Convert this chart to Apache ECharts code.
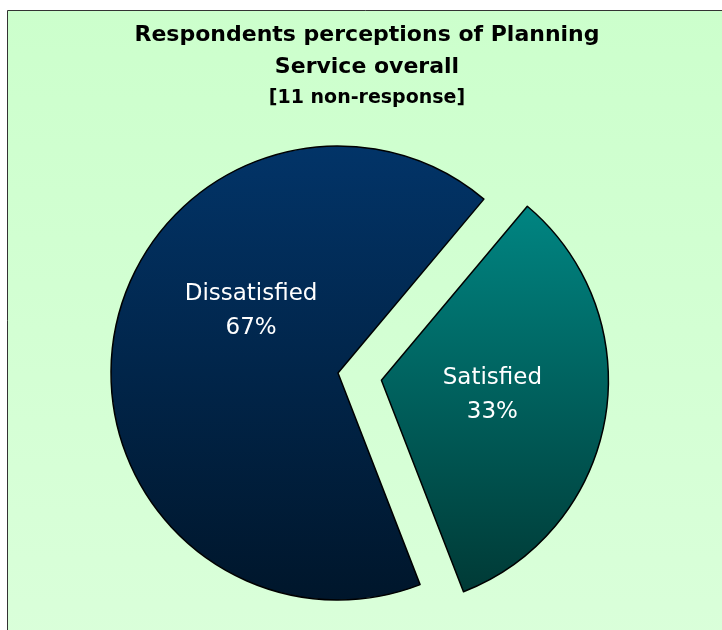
<!DOCTYPE html>
<html>
<head>
<meta charset="utf-8">
<script src="https://cdn.jsdelivr.net/npm/echarts@6/dist/echarts.min.js"></script>
<style>
  html, body { margin: 0; padding: 0; background: #fff; }
  #chart { width: 722px; height: 630px; }
</style>
</head>
<body>
<div id="chart"></div>
<script>
// pie data, Satisfied first so it starts at the upper right
var categories = ['Satisfied', 'Dissatisfied'];
var values = [33, 67];
var titleLines = ['Respondents perceptions of Planning', 'Service overall'];
var subTitle = '[11 non-response]';

var sliceColors = [
  ['#008582', '#003a36'],
  ['#023468', '#00162b']
];

var chart = echarts.init(document.getElementById('chart'));

var pieData = categories.map(function (name, i) {
  return {
    name: name,
    value: values[i],
    selected: i === 0,
    itemStyle: {
      color: new echarts.graphic.LinearGradient(0, 0, 0, 1, [
        { offset: 0, color: sliceColors[i][0] },
        { offset: 1, color: sliceColors[i][1] }
      ])
    }
  };
});

// nudge the labels to where the original has them
var labelShift = [[-4, -4], [28, -43]];

chart.setOption({
  animation: false,
  backgroundColor: '#ffffff',
  graphic: [{
    type: 'rect',
    z: -10,
    shape: { x: 7.5, y: 10.5, width: 730, height: 640 },
    style: {
      fill: new echarts.graphic.LinearGradient(0, 0, 0, 1, [
        { offset: 0, color: '#ccffcc' },
        { offset: 1, color: '#daffda' }
      ]),
      stroke: '#333333',
      lineWidth: 1
    },
    silent: true
  }],
  title: {
    text: titleLines.join('\n'),
    subtext: subTitle,
    left: 367,
    textAlign: 'center',
    top: 19,
    padding: 0,
    itemGap: 3,
    textStyle: {
      fontFamily: 'DejaVu Sans',
      fontWeight: 'bold',
      fontSize: 22,
      lineHeight: 32,
      color: '#000'
    },
    subtextStyle: {
      fontFamily: 'DejaVu Sans',
      fontWeight: 'bold',
      fontSize: 19,
      lineHeight: 24,
      color: '#000'
    }
  },
  series: [{
    type: 'pie',
    center: [338, 373],
    radius: 227,
    startAngle: 50,
    clockwise: true,
    selectedMode: 'single',
    selectedOffset: 44,
    avoidLabelOverlap: false,
    itemStyle: { borderColor: '#000', borderWidth: 1.5 },
    label: {
      show: true,
      position: 'inside',
      formatter: '{b}\n{d}%',
      fontFamily: 'DejaVu Sans',
      fontSize: 23,
      lineHeight: 34,
      color: '#fff'
    },
    labelLine: { show: false },
    labelLayout: function (params) {
      var s = labelShift[params.dataIndex];
      return { dx: s[0], dy: s[1] };
    },
    emphasis: { disabled: true },
    select: { itemStyle: { borderColor: '#000', borderWidth: 1.5 } },
    data: pieData
  }]
});
</script>
</body>
</html>
